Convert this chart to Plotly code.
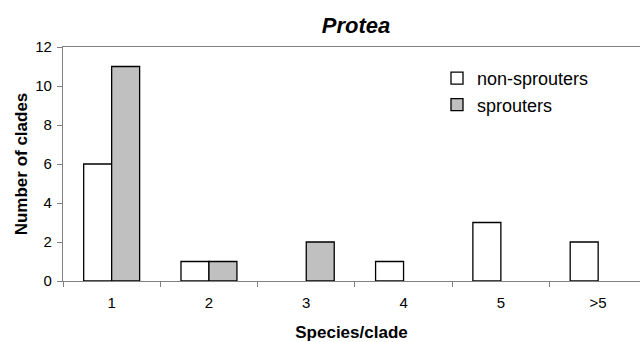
import plotly.graph_objects as go

categories = ["1", "2", "3", "4", "5", ">5"]
non_sprouters = [6, 1, 0, 1, 3, 2]
sprouters = [11, 1, 2, 0, 0, 0]
y_ticks = [0, 2, 4, 6, 8, 10, 12]

font = "Liberation Sans, Arial, sans-serif"


def hide_zero(vals):
    return [v if v else None for v in vals]


fig = go.Figure()
fig.add_trace(go.Bar(x=categories, y=hide_zero(non_sprouters), name="non-sprouters",
                     marker=dict(color="white", line=dict(color="black", width=1.3))))
fig.add_trace(go.Bar(x=categories, y=hide_zero(sprouters), name="sprouters",
                     marker=dict(color="#c0c0c0", line=dict(color="black", width=1.3))))

fig.update_layout(
    width=640, height=342,
    margin=dict(l=63, r=0, t=47, b=61),
    paper_bgcolor="white", plot_bgcolor="white",
    barmode="group", bargap=0.425, bargroupgap=0,
    font=dict(family=font, color="black"),
    title=dict(text="<b><i>Protea</i></b>", font=dict(size=22, family=font),
               x=356/640, xref="container", xanchor="center",
               y=1-25/342, yref="container", yanchor="middle"),
    legend=dict(x=(437-63)/577, y=1-(60-47)/234, xanchor="left", yanchor="top",
                bgcolor="rgba(0,0,0,0)", font=dict(size=18, family=font),
                itemwidth=30, tracegroupgap=0),
    showlegend=True,
)
fig.update_xaxes(
    type="category", range=[-0.5, 5.43], tickson="boundaries",
    showline=True, linecolor="#808080", linewidth=1.3, mirror=True,
    ticks="outside", ticklen=5, tickcolor="#808080",
    tickfont=dict(size=15), ticklabelstandoff=8, showgrid=False,
    title=dict(text="<b>Species/clade</b>", font=dict(size=17), standoff=18),
)
fig.update_yaxes(
    range=[0, 12], tickvals=y_ticks,
    showline=True, linecolor="#808080", linewidth=1.3,
    ticks="outside", ticklen=5, tickcolor="#808080",
    tickfont=dict(size=15), ticklabelstandoff=2, showgrid=False, zeroline=False,
    title=dict(text="<b>Number of clades</b>", font=dict(size=17), standoff=3),
)

fig.write_html("out.html")
